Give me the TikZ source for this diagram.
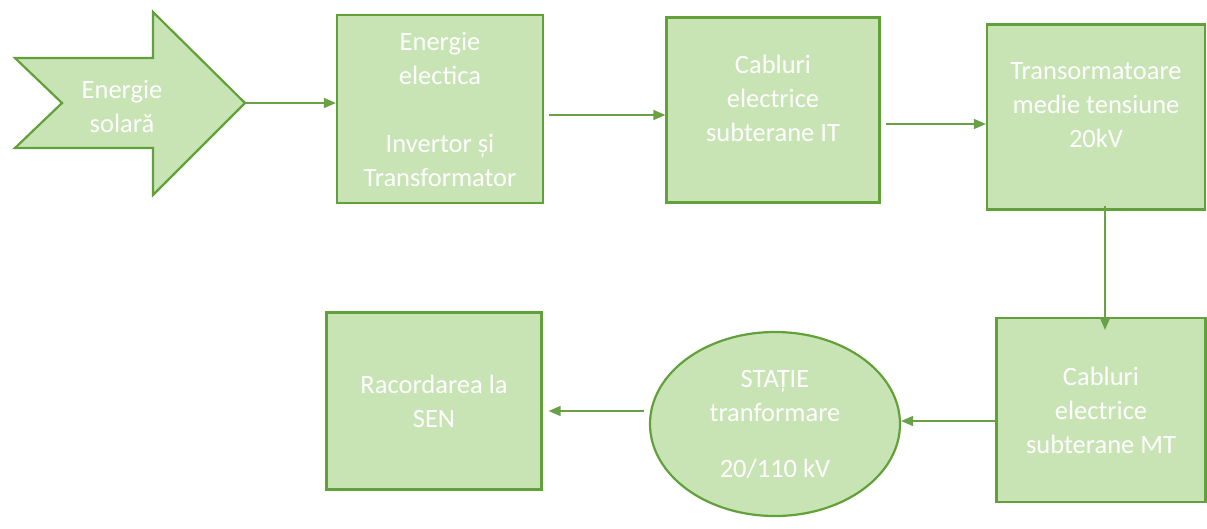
\documentclass[tikz,border=0pt]{standalone}
\usepackage{fontspec}
\setmainfont{Carlito}
\usetikzlibrary{shapes.geometric,arrows.meta}
\definecolor{boxfill}{RGB}{200,228,180}
\definecolor{boxline}{RGB}{98,160,58}
\definecolor{linkline}{RGB}{106,160,70}

\begin{document}
\begin{tikzpicture}[%
    x=1pt, y=-1pt,              % Pixel grid of the original, y pointing down
    >={Triangle[length=12pt,width=10pt]},
    every node/.style={font=\fontsize{26.5}{34}\selectfont, text=white, align=center},
    ]
% -------------------------------------------------
% Box styles
\tikzset{
  base/.style={draw=boxline, line width=2.2pt, fill=boxfill, inner sep=0pt},
  proc/.style={base, rectangle},
  hub/.style={base, ellipse},
  % Connector line style
  norm/.style={->, draw=linkline, line width=1.5pt},
}
\useasboundingbox (0,0) rectangle (1207,528);
% -------------------------------------------------
% The solar energy arrow (drawn directly)
\draw [base] (15,58) -- (153,58) -- (153,12) -- (245,103) -- (153,195)
  -- (153,148) -- (15,148) -- (62,103) -- cycle;
\coordinate (tip) at (245,103);
\node (solar) at (122,106) {Energie\\solară};
% -------------------------------------------------
% Place the nodes
\node [proc, minimum width=206pt, minimum height=188pt] (p1) at (440,109)
  {Energie\\electica\\[34pt]Invertor și\\Transformator};
\node [proc, minimum width=213pt, minimum height=185pt] (p2) at (773,110)
  {Cabluri\\electrice\\subterane IT\\[-10pt]};
\node [proc, minimum width=218pt, minimum height=185pt] (p3) at (1096,117)
  {Transormatoare\\medie tensiune\\20kV\\[-10pt]};
\node [proc, minimum width=209pt, minimum height=184pt] (p4) at (1101,410)
  {Cabluri\\electrice\\subterane MT};
\node [hub, minimum width=250pt, minimum height=184pt] (p5) at (775,424)
  {STAȚIE\\tranformare\\[22pt]20/110 kV};
\node [proc, minimum width=215pt, minimum height=177pt] (p6) at (434,401)
  {Racordarea la\\SEN};
% -------------------------------------------------
% Connectors
\draw [norm] (tip) -- (p1.west |- tip);
\draw [norm] ([xshift=5pt]p1.east |- 0,115) -- (p2.west |- 0,115);
\draw [norm] ([xshift=5pt]p2.east |- 0,124) -- (p3.west |- 0,124);
\draw [norm] ([yshift=5pt]p3.south -| 1105,0) -- ([yshift=-13pt]p4.north -| 1105,0);
\draw [norm] (p4.west |- 0,421) -- (p5.east |- 0,421);
\draw [norm] ([xshift=-5pt]p5.west |- 0,411) -- ([xshift=6pt]p6.east |- 0,411);
% -------------------------------------------------
\end{tikzpicture}
\end{document}
